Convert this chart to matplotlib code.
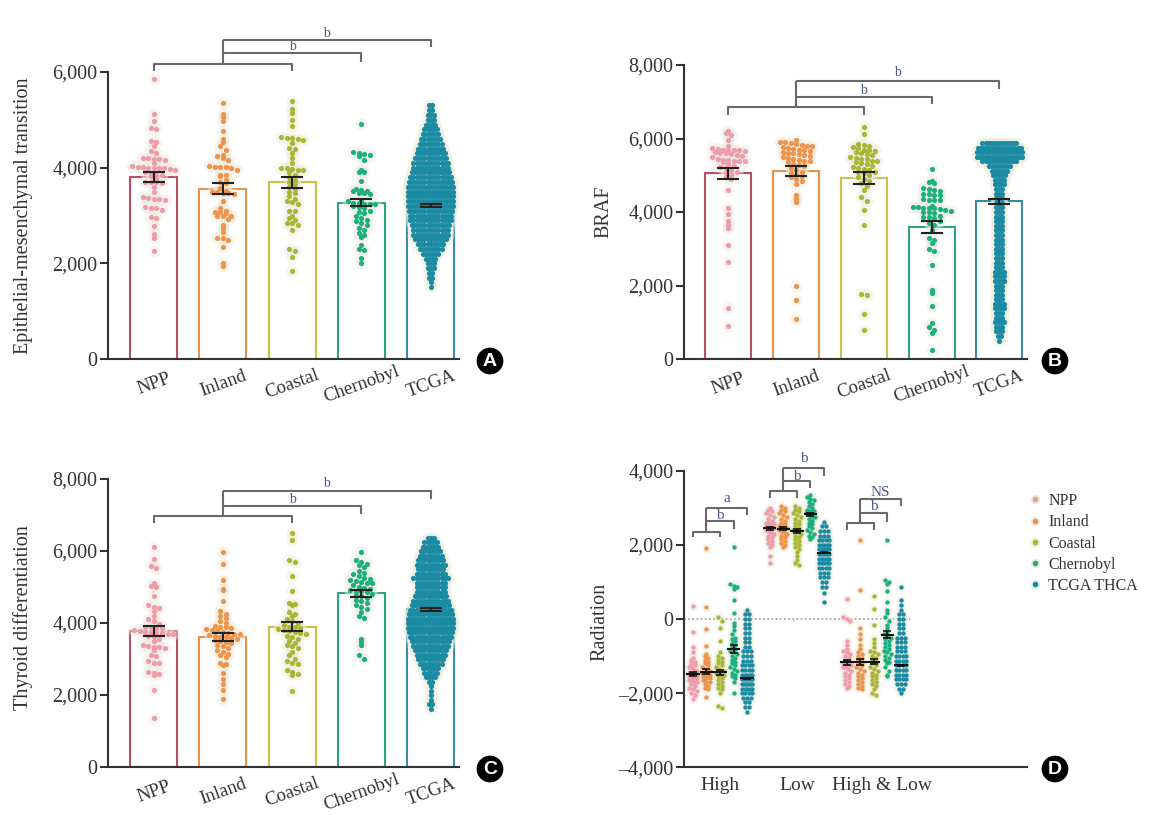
import numpy as np
import matplotlib.pyplot as plt
from matplotlib.lines import Line2D
from matplotlib.ticker import FuncFormatter
from matplotlib.transforms import ScaledTranslation

plt.rcParams['font.family'] = ['Liberation Serif', 'DejaVu Serif']

cats = ['NPP', 'Inland', 'Coastal', 'Chernobyl', 'TCGA']
legend_names = ['NPP', 'Inland', 'Coastal', 'Chernobyl', 'TCGA THCA']
dot_colors = ['#EE9BAA', '#F0934A', '#A8B834', '#1DB07F', '#1A8BA3']
edge_colors = ['#B9505F', '#E8914A', '#C9C248', '#2DA57E', '#3A8DA8']
HALO = '#ECEADB'
TXT = '#333333'
SIG = '#45598A'

# ---------------- panel A : epithelial-mesenchymal transition ----------------
A_npp = [5850, 5130, 4980, 4820, 4810, 4560, 4540, 4450, 4350, 4300, 4200, 4200, 4190, 4180, 4170,
         4100, 4030, 4010, 4010, 4000, 4000, 3990, 3990, 3980, 3950, 3900, 3880, 3850, 3840, 3820,
         3760, 3700, 3700, 3690, 3680, 3600, 3500, 3380, 3360, 3350, 3340, 3330, 3180, 3160, 3150,
         3120, 2970, 2950, 2780, 2620, 2520, 2250]
A_inland = [5360, 5130, 5050, 4980, 4760, 4600, 4530, 4460, 4370, 4270, 4250, 4200, 4150, 4030, 4020,
            4020, 4010, 4000, 3950, 3850, 3840, 3830, 3750, 3690, 3670, 3580, 3520, 3500, 3500, 3480,
            3470, 3450, 3300, 3160, 3100, 3080, 3070, 3050, 3000, 2980, 2980, 2920, 2800, 2730, 2650,
            2540, 2530, 2480, 2350, 2010, 1940]
A_coastal = [5390, 5220, 5150, 5000, 4870, 4650, 4620, 4610, 4600, 4580, 4520, 4420, 4400, 4300, 4200,
             4100, 4000, 3990, 3980, 3960, 3950, 3900, 3850, 3800, 3750, 3700, 3650, 3600, 3550, 3500,
             3470, 3400, 3350, 3300, 3280, 3230, 3100, 3100, 3000, 2950, 2900, 2850, 2850, 2800, 2700,
             2300, 2260, 2140, 1830]
A_chern = [4910, 4330, 4310, 4280, 4270, 4250, 4170, 3960, 3910, 3900, 3720, 3550, 3530, 3520, 3510,
           3470, 3460, 3450, 3320, 3300, 3270, 3260, 3250, 3240, 3230, 3200, 3180, 3150, 3100, 3080,
           3050, 2980, 2950, 2910, 2880, 2840, 2800, 2730, 2700, 2630, 2600, 2560, 2390, 2300, 2280,
           2110, 2010]
A_tcga_levels = [1500, 1600, 1700, 1800, 1900, 2000, 2100, 2200, 2300, 2400, 2500, 2600, 2700, 2800,
                 2900, 3000, 3100, 3200, 3300, 3400, 3500, 3600, 3700, 3800, 3900, 4000, 4100, 4200,
                 4300, 4400, 4500, 4600, 4700, 4800, 4900, 5000, 5100, 5200, 5300]
A_tcga_counts = [1, 1, 2, 2, 3, 3, 4, 6, 8, 9, 11, 12, 12, 13, 14, 14, 15, 16, 16, 16, 16, 16, 15, 14,
                 13, 12, 12, 11, 10, 9, 8, 7, 6, 5, 4, 3, 3, 2, 2]
A_means = [3800, 3560, 3700, 3270, 3200]
A_sems = [100, 110, 115, 80, 30]

# ---------------- panel B : BRAF ----------------
B_npp = [6200, 6150, 6100, 5950, 5800, 5750, 5720, 5700, 5700, 5690, 5680, 5650, 5620, 5600, 5600,
         5580, 5550, 5520, 5500, 5450, 5420, 5410, 5400, 5400, 5390, 5350, 5300, 5250, 5220, 5200,
         5150, 5100, 5050, 5000, 4950, 4900, 4600, 4100, 3950, 3750, 3650, 3560, 3100, 2650, 1380, 900]
B_inland = [5950, 5900, 5900, 5880, 5850, 5820, 5800, 5800, 5780, 5750, 5720, 5700, 5680, 5650, 5620,
            5600, 5600, 5580, 5550, 5530, 5500, 5480, 5450, 5420, 5400, 5380, 5350, 5300, 5280, 5250,
            5200, 5150, 5100, 5050, 5000, 4980, 4950, 4900, 4850, 4750, 4450, 4350, 4280, 1980, 1600, 1080]
B_coastal = [6320, 6120, 5850, 5830, 5800, 5780, 5750, 5700, 5680, 5650, 5620, 5600, 5580, 5550, 5500,
             5480, 5450, 5430, 5400, 5380, 5350, 5320, 5300, 5250, 5230, 5200, 5180, 5150, 5100, 5080,
             5050, 5000, 4950, 4900, 4850, 4800, 4700, 4600, 4400, 4300, 4050, 3650, 1770, 1740, 1220, 800]
B_chern = [5160, 4830, 4820, 4800, 4650, 4620, 4600, 4580, 4500, 4480, 4460, 4450, 4350, 4340, 4330,
           4320, 4150, 4140, 4130, 4120, 4110, 4100, 4080, 4060, 4020, 4000, 3990, 3980, 3880, 3870,
           3860, 3850, 3750, 3700, 3650, 3500, 3300, 3250, 3150, 3000, 2950, 2560, 1880, 1790, 1440,
           990, 880, 790, 700, 250]
B_tcga_levels = [500, 625, 750, 875, 1000, 1125, 1250, 1375, 1500, 1625, 1750, 1875, 2000, 2125, 2250,
                 2375, 2500, 2625, 2750, 2875, 3000, 3125, 3250, 3375, 3500, 3625, 3750, 3875, 4000,
                 4125, 4250, 4375, 4500, 4625, 4750, 4875, 5000, 5125, 5250, 5375, 5500, 5625, 5750, 5875]
B_tcga_counts = [1, 2, 3, 3, 4, 3, 3, 4, 4, 3, 3, 3, 3, 4, 4, 4, 3, 3, 3, 3, 3, 3, 3, 3, 3, 3, 3, 3, 3,
                 3, 3, 3, 3, 3, 4, 4, 5, 6, 8, 12, 16, 16, 15, 12]
B_means = [5050, 5120, 4930, 3600, 4290]
B_sems = [150, 140, 160, 160, 60]

# ---------------- panel C : thyroid differentiation ----------------
C_npp = [6120, 5780, 5580, 5530, 5100, 5030, 5000, 4750, 4500, 4450, 4420, 4330, 4200, 4100, 4050,
         3980, 3900, 3880, 3860, 3850, 3800, 3780, 3760, 3750, 3720, 3710, 3700, 3690, 3650, 3600,
         3550, 3500, 3400, 3350, 3340, 3330, 3300, 3250, 3100, 3090, 2950, 2900, 2880, 2650, 2600,
         2580, 2560, 2130, 1350]
C_inland = [5980, 5650, 5200, 4950, 4920, 4620, 4320, 4250, 4200, 4150, 4050, 4000, 3920, 3900, 3880,
            3850, 3820, 3800, 3780, 3750, 3730, 3700, 3690, 3680, 3650, 3620, 3600, 3580, 3550, 3520,
            3500, 3480, 3450, 3400, 3350, 3300, 3250, 3200, 3150, 3100, 3050, 2900, 2850, 2840, 2600,
            2450, 2300, 2150, 1880]
C_coastal = [6500, 6300, 5750, 5700, 5300, 4900, 4550, 4520, 4500, 4300, 4250, 4200, 4100, 4050, 4000,
             3950, 3900, 3880, 3850, 3820, 3800, 3780, 3750, 3720, 3700, 3650, 3600, 3550, 3500, 3450,
             3400, 3350, 3300, 3200, 3100, 3000, 2950, 2900, 2850, 2700, 2650, 2580, 2550, 2100]
C_chern = [5960, 5750, 5700, 5650, 5600, 5550, 5450, 5400, 5350, 5300, 5250, 5230, 5200, 5180, 5150,
           5120, 5100, 5050, 5000, 4980, 4950, 4920, 4900, 4880, 4850, 4800, 4780, 4750, 4700, 4650,
           4600, 4550, 4500, 4450, 4400, 4300, 4200, 4150, 3550, 3480, 3400, 3100, 3000]
C_tcga_levels = [1625, 1750, 1875, 2000, 2125, 2250, 2375, 2500, 2625, 2750, 2875, 3000, 3125, 3250,
                 3375, 3500, 3625, 3750, 3875, 4000, 4125, 4250, 4375, 4500, 4625, 4750, 4875, 5000,
                 5125, 5250, 5375, 5500, 5625, 5750, 5875, 6000, 6125, 6250, 6375]
C_tcga_counts = [1, 2, 1, 1, 1, 1, 2, 4, 5, 6, 8, 9, 10, 11, 12, 13, 14, 15, 16, 16, 16, 15, 14, 13, 12,
                 11, 10, 10, 10, 12, 10, 9, 10, 9, 8, 7, 6, 5, 3]
C_means = [3780, 3600, 3900, 4830, 4380]
C_sems = [130, 110, 120, 100, 40]

# ---------------- panel D : radiation ----------------
D_groups = ['High', 'Low', 'High & Low']
D_high = [
    [350, -350, -750, -900, -1050, -1100, -1150, -1200, -1250, -1300, -1300, -1350, -1400, -1400, -1450,
     -1450, -1500, -1500, -1550, -1550, -1600, -1600, -1650, -1650, -1700, -1700, -1750, -1800, -1850,
     -1900, -1950, -2000, -2050, -2150],
    [1920, 330, -280, -720, -950, -1000, -1050, -1100, -1150, -1200, -1250, -1300, -1350, -1400, -1400,
     -1450, -1450, -1500, -1500, -1550, -1600, -1600, -1650, -1700, -1700, -1750, -1800, -1850, -1900, -2100],
    [50, -50, -250, -600, -900, -1000, -1050, -1100, -1150, -1200, -1250, -1300, -1350, -1400, -1400,
     -1450, -1450, -1500, -1500, -1550, -1600, -1650, -1700, -1750, -1800, -1850, -1900, -2000, -2350, -2400],
    [1930, 950, 900, 850, 800, 500, 150, -100, -200, -300, -400, -500, -550, -600, -650, -700, -750, -800,
     -850, -900, -950, -1000, -1050, -1100, -1150, -1200, -1250, -1300, -1350, -1400, -1450, -1500, -1550,
     -1600, -1700, -2000],
]
D_high_tcga_levels = [250, 125, 0, -125, -250, -375, -500, -625, -750, -875, -1000, -1125, -1250, -1375,
                      -1500, -1625, -1750, -1875, -2000, -2125, -2250, -2375, -2500]
D_high_tcga_counts = [1, 2, 2, 2, 2, 2, 2, 2, 2, 3, 3, 3, 4, 4, 5, 6, 6, 5, 4, 3, 2, 2, 1]
D_low = [
    [3000, 2950, 2900, 2850, 2800, 2750, 2700, 2650, 2600, 2600, 2550, 2550, 2500, 2500, 2450, 2450, 2400,
     2400, 2350, 2350, 2300, 2300, 2250, 2200, 2150, 2100, 2050, 2000, 1950, 1700, 1520],
    [3050, 3000, 2950, 2900, 2850, 2800, 2750, 2700, 2650, 2600, 2550, 2500, 2500, 2450, 2450, 2400, 2400,
     2350, 2350, 2300, 2300, 2250, 2200, 2150, 2100, 2050, 2000, 1950],
    [3050, 3000, 2950, 2900, 2850, 2800, 2750, 2700, 2650, 2600, 2550, 2500, 2450, 2400, 2400, 2350, 2300,
     2250, 2200, 2150, 2100, 2050, 2000, 1950, 1900, 1800, 1700, 1600, 1500, 1450],
    [3350, 3300, 3250, 3200, 3150, 3100, 3050, 3000, 2950, 2900, 2900, 2850, 2850, 2800, 2800, 2750, 2750,
     2700, 2650, 2600, 2550, 2500, 2450, 2400, 2350, 2300, 2250, 2200, 2150],
]
D_low_tcga_levels = [2625, 2500, 2375, 2250, 2125, 2000, 1875, 1750, 1625, 1500, 1375, 1250, 1125, 1000,
                     875, 700, 450]
D_low_tcga_counts = [1, 2, 3, 3, 4, 5, 6, 6, 5, 5, 4, 3, 3, 2, 2, 1, 1]
D_both = [
    [530, 50, 0, -50, -600, -700, -800, -850, -900, -950, -1000, -1050, -1100, -1150, -1200, -1200, -1250,
     -1250, -1300, -1300, -1350, -1400, -1450, -1500, -1550, -1600, -1650, -1700, -1750, -1800, -1850],
    [2130, 780, -250, -400, -550, -700, -800, -900, -950, -1000, -1050, -1100, -1150, -1200, -1250, -1300,
     -1350, -1400, -1450, -1500, -1550, -1600, -1650, -1700, -1750, -1800, -1850, -1900],
    [620, 270, -170, -550, -650, -750, -850, -900, -950, -1000, -1050, -1100, -1150, -1200, -1250, -1300,
     -1350, -1400, -1450, -1500, -1550, -1600, -1650, -1700, -1750, -1800, -1900, -2000, -2050],
    [2130, 1050, 1000, 950, 750, 450, 250, 150, 50, -50, -150, -250, -350, -400, -450, -500, -550, -600,
     -650, -700, -750, -800, -850, -900, -950, -1000, -1050, -1100, -1150, -1200, -1300, -1400, -1500, -1550],
]
D_both_tcga_levels = [850, 500, 375, 250, 125, 0, -125, -250, -375, -500, -625, -750, -875, -1000, -1125,
                      -1250, -1375, -1500, -1625, -1750, -1875, -2000]
D_both_tcga_counts = [1, 1, 1, 1, 2, 2, 2, 2, 2, 3, 3, 3, 3, 4, 4, 4, 4, 4, 4, 3, 2, 1]
D_means = [[-1480, -1420, -1440, -800, -1600],
           [2450, 2430, 2380, 2820, 1790],
           [-1170, -1160, -1150, -420, -1250]]
D_sems = [[50, 70, 60, 110, 20],
          [40, 40, 50, 40, 15],
          [60, 70, 70, 90, 15]]


def swarm(vals, rowh, dx, maxw):
    # GraphPad-like layout: points grouped in rows, each row centred
    vals = np.asarray(vals, float)
    rows = np.round(vals / rowh).astype(int)
    xs = np.zeros(len(vals))
    for r in np.unique(rows):
        idx = np.where(rows == r)[0]
        n = len(idx)
        step = min(dx, maxw / max(n - 1, 1))
        xs[idx] = (np.arange(n) - (n - 1) / 2) * step
    return xs


def fmt(v, pos):
    return f'{int(round(v)):,}'.replace('-', '\u2013')


def style(ax):
    for s in ['top', 'right']:
        ax.spines[s].set_visible(False)
    for s in ['left', 'bottom']:
        ax.spines[s].set_linewidth(1.5)
        ax.spines[s].set_color(TXT)
    ax.tick_params(axis='y', length=6, width=1.5, colors=TXT, labelsize=14.5, pad=1.5)
    ax.tick_params(axis='x', length=0, colors=TXT)
    ax.yaxis.set_major_formatter(FuncFormatter(fmt))


def brackets(ax, xs, h, d, letters, t, fs):
    kw = dict(color='#6A6A6A', lw=1.5, clip_on=False, solid_capstyle='butt')
    x0, x1, x2, x3, x4 = xs
    ax.plot([x0, x0, x2, x2], [d[0], h[0], h[0], d[0]], **kw)
    ax.plot([x1, x1], [h[0], h[2]], **kw)
    ax.plot([x1, x3, x3], [h[1], h[1], d[1]], **kw)
    ax.plot([x1, x4, x4], [h[2], h[2], d[2]], **kw)
    ax.text((x1 + x3) / 2, t[0], letters[0], ha='center', va='baseline', fontsize=fs, color=SIG)
    ax.text((x1 + x4) / 2, t[1], letters[1], ha='center', va='baseline', fontsize=fs, color=SIG)


def bar_panel(ax, groups, means, sems, ylim, yticks, ylabel, ly):
    x = np.arange(5)
    ax.bar(x, means, width=0.68, color='white', edgecolor=edge_colors, linewidth=1.5, zorder=1)
    for i, (vals, rh) in enumerate(groups):
        dense = i == 4
        xs = swarm(vals, rh, 0.045 if dense else 0.08, 0.66 if dense else 0.62)
        ax.scatter(i + xs, vals, s=75, color=HALO, alpha=0.45, lw=0, zorder=2)
        ax.scatter(i + xs, vals, s=14, color=dot_colors[i], lw=0, zorder=3)
    ax.errorbar(x, means, yerr=sems, fmt='none', ecolor='#222222', elinewidth=1.5,
                capsize=8, capthick=1.5, zorder=4)
    style(ax)
    ax.set_xlim(-0.66, 4.41)
    ax.set_ylim(*ylim)
    ax.set_yticks(yticks)
    ax.set_xticks(x)
    ax.set_xticklabels(cats, rotation=20, rotation_mode='anchor', ha='center', va='center',
                       fontsize=13.5, color=TXT)
    ax.tick_params(axis='x', pad=18)
    ax.set_ylabel(ylabel, fontsize=14.5, color=TXT)
    ax.yaxis.set_label_coords(ly, 0.5)


fig = plt.figure(figsize=(11.62, 8.35), dpi=100)
axA = fig.add_axes([108 / 1162, 1 - 359 / 835, 351 / 1162, 287 / 835])
axB = fig.add_axes([684 / 1162, 1 - 359 / 835, 343 / 1162, 294 / 835])
axC = fig.add_axes([108 / 1162, 1 - 767 / 835, 351 / 1162, 288 / 835])
axD = fig.add_axes([684 / 1162, 1 - 767.3 / 835, 343 / 1162, 296.6 / 835])

A_tcga = np.repeat(A_tcga_levels, A_tcga_counts)
bar_panel(axA, [(A_npp, 105), (A_inland, 105), (A_coastal, 105), (A_chern, 105), (A_tcga, 100)],
          A_means, A_sems, (0, 6000), [0, 2000, 4000, 6000], 'Epithelial-mesenchymal transition', -0.214)
brackets(axA, range(5), [6158, 6388, 6674], [6012, 6214, 6514], ['b', 'b'], [6450, 6740], 10)

B_tcga = np.repeat(B_tcga_levels, B_tcga_counts)
bar_panel(axB, [(B_npp, 136), (B_inland, 136), (B_coastal, 136), (B_chern, 136), (B_tcga, 125)],
          B_means, B_sems, (0, 8000), [0, 2000, 4000, 6000, 8000], 'BRAF', -0.207)
axB.set_xlim(-0.657, 4.41)
brackets(axB, range(5), [6857, 7129, 7565], [6640, 6939, 7347], ['b', 'b'], [7200, 7690], 10)

C_tcga = np.repeat(C_tcga_levels, C_tcga_counts)
bar_panel(axC, [(C_npp, 139), (C_inland, 139), (C_coastal, 139), (C_chern, 139), (C_tcga, 125)],
          C_means, C_sems, (0, 8000), [0, 2000, 4000, 6000, 8000], 'Thyroid differentiation', -0.214)
axC.yaxis.set_label_coords(-0.214, 0.52)
brackets(axC, range(5), [6964, 7258, 7675], [6769, 7036, 7453], ['b', 'b'], [7330, 7770], 10)

# panel D
G = 5.66
D_sets = [D_high + [np.repeat(D_high_tcga_levels, D_high_tcga_counts)],
          D_low + [np.repeat(D_low_tcga_levels, D_low_tcga_counts)],
          D_both + [np.repeat(D_both_tcga_levels, D_both_tcga_counts)]]
for g, series in enumerate(D_sets):
    for k, vals in enumerate(series):
        pos = g * G + (k - 2)
        xs = swarm(vals, 112, 0.28, 0.75 if k == 4 else 0.6)
        axD.scatter(pos + xs, vals, s=45, color=HALO, alpha=0.45, lw=0, zorder=2)
        axD.scatter(pos + xs, vals, s=10, color=dot_colors[k], lw=0, zorder=3)
        m = D_means[g][k]
        axD.plot([pos - 0.42, pos + 0.42], [m, m], color='#111111', lw=1.5, zorder=4)
        axD.errorbar(pos, m, yerr=D_sems[g][k], fmt='none', ecolor='#111111', elinewidth=1.2,
                     capsize=3, capthick=1.2, zorder=4)
axD.plot([-2.65, 14.0], [0, 0], color='#9A9A9A', lw=1.2, ls=(0, (1, 1.5)), zorder=1)
style(axD)
axD.set_xlim(-2.65, 22.6)
axD.set_ylim(-4000, 4000)
axD.set_yticks([-4000, -2000, 0, 2000, 4000])
axD.set_xticks([0, G, 2 * G])
axD.set_xticklabels(D_groups, fontsize=14, color=TXT)
axD.tick_params(axis='x', pad=7)
# the last group label sits a little right of its group in the original
lbl = axD.get_xticklabels()[2]
lbl.set_transform(lbl.get_transform() + ScaledTranslation(0.08, 0, fig.dpi_scale_trans))
axD.set_ylabel('Radiation', fontsize=14.5, color=TXT)
axD.yaxis.set_label_coords(-0.216, 0.49)

D_br = [([2355, 2643, 3002], [2203, 2427, 2813], ['b', 'a'], [2697, 3150]),
        ([3443, 3722, 4072], [3255, 3533, 3865], ['b', 'b'], [3762, 4234]),
        ([2580, 2859, 3236], [2408, 2625, 3039], ['b', 'NS'], [2950, 3330])]
for g, (h, d, lab, t) in enumerate(D_br):
    brackets(axD, [g * G + k - 2 for k in range(5)], h, d, lab, t, 11)

handles = [Line2D([], [], marker='o', ls='', color=c, markersize=5.5,
                  markeredgecolor=HALO, markeredgewidth=1.5) for c in dot_colors]
fig.legend(handles, legend_names, loc='upper left', bbox_to_anchor=(1021 / 1162, 1 - 485 / 835),
           frameon=False, fontsize=11.5, handlelength=0.8, handletextpad=0.4, labelspacing=0.33,
           borderpad=0, labelcolor=TXT)

# panel letters
for lab, (px, py) in zip('ABCD', [(490, 361), (1055, 361), (490, 769), (1055, 769)]):
    fig.text(px / 1162, 1 - py / 835, lab, ha='center', va='center', color='white', fontsize=14,
             fontweight='bold', family=['Liberation Sans', 'DejaVu Sans'],
             bbox=dict(boxstyle='circle,pad=0.25', fc='black', ec='none'))

fig.savefig('out.png', dpi=100)
